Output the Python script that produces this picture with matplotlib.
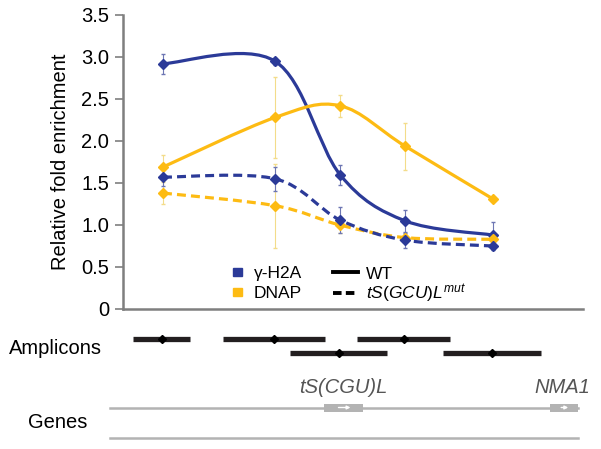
import matplotlib
matplotlib.use("Agg")
import matplotlib.pyplot as plt
from matplotlib.path import Path
from matplotlib.patches import PathPatch, Patch, Rectangle
from matplotlib.lines import Line2D

plt.rcParams['font.family'] = ['Liberation Sans', 'DejaVu Sans']
plt.rcParams['mathtext.fontset'] = 'custom'
plt.rcParams['mathtext.it'] = 'Liberation Sans:italic'
plt.rcParams['mathtext.rm'] = 'Liberation Sans'

# amplicon midpoints (arbitrary position units along the locus)
positions = [40, 152, 217, 282, 370]

h2a_wt = [2.92, 2.95, 1.60, 1.05, 0.88]
h2a_wt_err = [0.12, 0.04, 0.12, 0.13, 0.15]
dnap_wt = [1.69, 2.28, 2.42, 1.94, 1.31]
dnap_wt_err = [0.14, 0.48, 0.13, 0.28, 0.02]
h2a_mut = [1.57, 1.55, 1.06, 0.82, 0.75]
h2a_mut_err = [0.10, 0.14, 0.16, 0.09, 0.05]
dnap_mut = [1.38, 1.23, 1.00, 0.85, 0.83]
dnap_mut_err = [0.13, 0.50, 0.10, 0.04, 0.03]

amp_start = [10, 100, 167, 234, 320]
amp_end = [67, 202, 264, 327, 418]
amp_row = [0, 0, 1, 0, 1]

genes = ['tS(CGU)L', 'NMA1']
gene_start = [201, 427]
gene_end = [240, 455]
locus_start, locus_end = -13, 455

yticks = [0, 0.5, 1.0, 1.5, 2.0, 2.5, 3.0, 3.5]
ytick_labels = ['0', '0.5', '1.0', '1.5', '2.0', '2.5', '3.0', '3.5']

BLUE = '#2b3a98'
YELLOW = '#fdbb13'
GRAY = '#b3b3b3'
DARK = '#231f20'
FS = 14.5


def smooth_path(xs, ys):
    # bezier segments like a spreadsheet "smoothed line"
    pts = list(zip(xs, ys))
    ext = [pts[0]] + pts + [pts[-1]]
    verts = [pts[0]]
    codes = [Path.MOVETO]
    for i in range(len(pts) - 1):
        p_prev, p0, p1, p_next = ext[i], ext[i + 1], ext[i + 2], ext[i + 3]
        c1 = (p0[0] + (p1[0] - p_prev[0]) / 6, p0[1] + (p1[1] - p_prev[1]) / 6)
        c2 = (p1[0] - (p_next[0] - p0[0]) / 6, p1[1] - (p_next[1] - p0[1]) / 6)
        verts += [c1, c2, p1]
        codes += [Path.CURVE4] * 3
    return Path(verts, codes)


fig = plt.figure(figsize=(6.01, 4.49), dpi=100)
W, H = 601, 449
ax = fig.add_axes([123 / W, 1 - 309 / H, 460 / W, 294 / H])

dash = (0, (2.8, 1.6))
series = [
    (h2a_wt, h2a_wt_err, BLUE, '-', '#6d76b3'),
    (dnap_wt, dnap_wt_err, YELLOW, '-', '#f3dc8a'),
    (dnap_mut, dnap_mut_err, YELLOW, dash, '#f3dc8a'),
    (h2a_mut, h2a_mut_err, BLUE, dash, '#6d76b3'),
]
for vals, err, col, ls, ecol in series:
    ax.errorbar(positions, vals, yerr=err, fmt='none', ecolor=ecol, elinewidth=0.8, capsize=1.5, zorder=2)
    ax.add_patch(PathPatch(smooth_path(positions, vals), facecolor='none', edgecolor=col,
                           lw=2.3, linestyle=ls, zorder=3))
    ax.plot(positions, vals, linestyle='none', marker='D', markersize=5, color=col, zorder=4)

ax.set_xlim(0, 460)
ax.set_ylim(0, 3.5)
ax.set_yticks(yticks)
ax.set_yticklabels(ytick_labels, fontsize=FS)
ax.set_xticks([])
for s in ['top', 'right']:
    ax.spines[s].set_visible(False)
for s in ['left', 'bottom']:
    ax.spines[s].set_color('#7f7f7f')
    ax.spines[s].set_linewidth(1.8)
ax.tick_params(axis='y', direction='out', length=6, width=1.2, color='#7f7f7f', pad=4)
ax.set_ylabel('Relative fold enrichment', fontsize=FS, labelpad=8)

leg1 = ax.legend(handles=[Patch(color=BLUE, label='γ-H2A'), Patch(color=YELLOW, label='DNAP')],
                 loc='upper left', bbox_to_anchor=(0.239, 0.145), frameon=False, fontsize=12.5,
                 handlelength=0.5, handleheight=0.3, handletextpad=0.7, labelspacing=0.28,
                 borderaxespad=0, borderpad=0)
ax.add_artist(leg1)
ax.legend(handles=[Line2D([], [], color='black', lw=2.8, label='WT'),
                   Line2D([], [], color='black', lw=2.8, linestyle=(0, (2.2, 1.1)),
                          label='$\\mathit{tS(GCU)L}^{\\mathit{mut}}$')],
          loc='upper left', bbox_to_anchor=(0.4565, 0.145), frameon=False, fontsize=12.5,
          handlelength=1.45, handletextpad=0.45, labelspacing=0.05, borderaxespad=0, borderpad=0)

# lower panel: amplicons and genes, y in pixel rows
lx = fig.add_axes([123 / W, 0, 460 / W, 130 / H])
lx.set_xlim(0, 460)
lx.set_ylim(449, 319)
lx.axis('off')

row_y = [339, 353]
for s, e, r in zip(amp_start, amp_end, amp_row):
    y = row_y[r]
    lx.plot([s, e], [y, y], color=DARK, lw=3.8, solid_capstyle='butt', clip_on=False)
    lx.plot([(s + e) / 2], [y], marker='D', markersize=4.5, color='black', clip_on=False)

lx.plot([locus_start, locus_end], [408, 408], color=GRAY, lw=1.8, clip_on=False, zorder=1)
lx.plot([locus_start, locus_end], [438, 438], color=GRAY, lw=1.8, clip_on=False, zorder=1)
for name, s, e in zip(genes, gene_start, gene_end):
    lx.add_patch(Rectangle((s, 403.5), e - s, 8, facecolor=GRAY, edgecolor='none', zorder=2, clip_on=False))
    lx.annotate('', xy=(s + (e - s) * 0.75, 407.5), xytext=(s + (e - s) * 0.3, 407.5),
                arrowprops=dict(arrowstyle='-|>', color='white', lw=1, mutation_scale=5), zorder=3)
lx.text((gene_start[0] + gene_end[0]) / 2, 393, genes[0], fontsize=FS, style='italic', color='#555555',
        ha='center', va='baseline')
lx.text(gene_end[1] + 12, 393, genes[1], fontsize=FS, style='italic', color='#555555',
        ha='right', va='baseline')

fig.text(9 / W, 1 - 349 / H, 'Amplicons', fontsize=FS, ha='left', va='center')
fig.text(28 / W, 1 - 422 / H, 'Genes', fontsize=FS, ha='left', va='center')

fig.savefig('out.png', dpi=100)
